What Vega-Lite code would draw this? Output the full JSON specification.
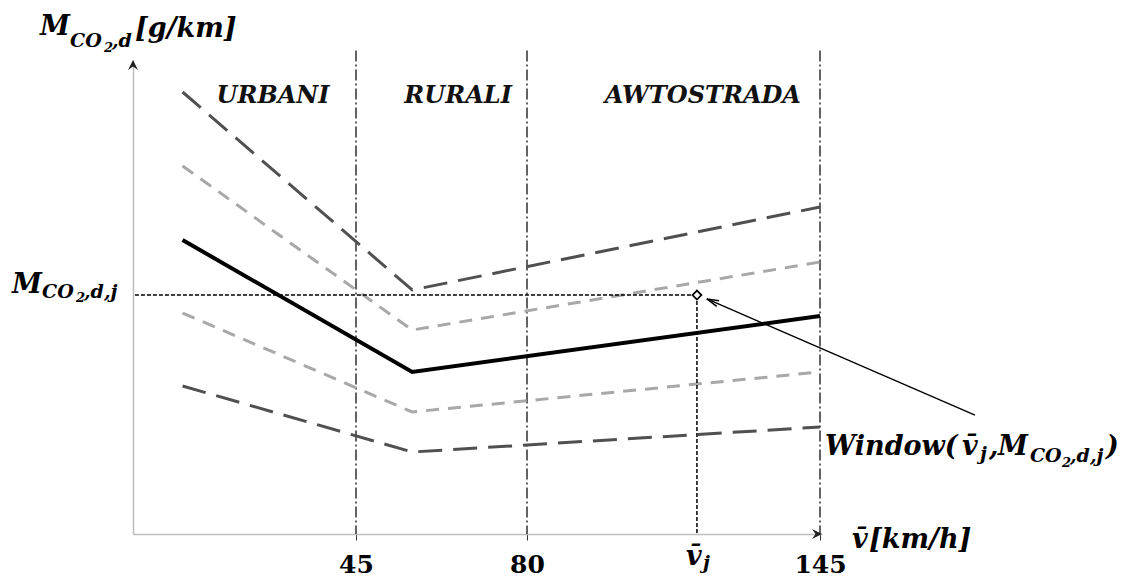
{
  "$schema": "https://vega.github.io/schema/vega-lite/v6.json",
  "autosize": {"type": "none"},
  "width": 689,
  "height": 474,
  "padding": {"left": 133, "top": 60, "right": 307, "bottom": 43},
  "background": "white",
  "config": {"view": {"stroke": null}, "text": {"font": "DejaVu Serif", "fontStyle": "italic", "fontWeight": "bold", "color": "#000000"}},
  "datasets": {
    "curves": [
      {"curve": "upper2", "v": 10, "m": 93.25}, {"curve": "upper2", "v": 56.5, "m": 51.48}, {"curve": "upper2", "v": 145, "m": 68.99},
      {"curve": "upper1", "v": 10, "m": 77.64}, {"curve": "upper1", "v": 56.5, "m": 43.04}, {"curve": "upper1", "v": 145, "m": 57.38},
      {"curve": "mean", "v": 10, "m": 62.03}, {"curve": "mean", "v": 56.5, "m": 34.18}, {"curve": "mean", "v": 145, "m": 45.99},
      {"curve": "lower1", "v": 10, "m": 46.62}, {"curve": "lower1", "v": 56.5, "m": 25.74}, {"curve": "lower1", "v": 145, "m": 34.18},
      {"curve": "lower2", "v": 10, "m": 31.22}, {"curve": "lower2", "v": 56.5, "m": 17.3}, {"curve": "lower2", "v": 145, "m": 22.57}
    ],
    "bounds": [{"v": 45}, {"v": 80}, {"v": 145}],
    "window": [{"v": 117.7, "m": 50.4}],
    "pointer": [{"v": 179.1, "m": 25.1}, {"v": 119.9, "m": 49.6}],
    "pointerTip": [{"v": 119.9, "m": 49.6}],
    "yTip": [{"v": 0, "m": 100}],
    "xTip": [{"v": 145.44, "m": 0}],
    "zones": [{"t": "URBANI", "v": 28.25, "m": 90.9}, {"t": "RURALI", "v": 65.9, "m": 90.9}, {"t": "AWTOSTRADA", "v": 119.0, "m": 90.9}],
    "big": [
      {"t": "M", "v": -18.77, "m": 105.3},
      {"t": "[g/km]", "v": 0.4, "m": 104.9},
      {"t": "M", "v": -24.42, "m": 50.8},
      {"t": "Window(", "v": 146.1, "m": 16.67},
      {"t": "v̄", "v": 176.24, "m": 16.67},
      {"t": ",", "v": 182.18, "m": 16.67},
      {"t": "M", "v": 184.16, "m": 16.67},
      {"t": ")", "v": 207.92, "m": 16.67},
      {"t": "v̄", "v": 152.04, "m": -2.95},
      {"t": "[km/h]", "v": 155.78, "m": -2.95},
      {"t": "v̄", "v": 115.3, "m": -6.54}
    ],
    "sub": [
      {"t": "CO", "v": -12.71, "m": 102.7},
      {"t": ",d", "v": -4.24, "m": 102.7},
      {"t": "CO", "v": -18.36, "m": 49.8},
      {"t": ",d,j", "v": -9.89, "m": 49.8},
      {"t": "j", "v": 180.2, "m": 15.6},
      {"t": "CO", "v": 191.2, "m": 15.19},
      {"t": ",d,j", "v": 200.0, "m": 15.19},
      {"t": "j", "v": 119.04, "m": -7.38}
    ],
    "subsub": [
      {"t": "2", "v": -5.85, "m": 101.7},
      {"t": "2", "v": -11.5, "m": 48.9},
      {"t": "2", "v": 198.24, "m": 14.13}
    ]
  },
  "layer": [
    {
      "data": {"name": "bounds"},
      "mark": {"type": "rule", "color": "#222222", "strokeWidth": 1.4, "strokeDash": [11, 3, 2, 3]},
      "encoding": {
        "x": {"field": "v", "type": "quantitative", "scale": {"domain": [0, 45, 80, 145, 145.44], "range": [0, 223, 394, 687, 689], "nice": false, "zero": false},
          "axis": {"values": [45, 80, 145], "title": null, "grid": false, "domainColor": "#bdbdbd", "domainWidth": 1.5, "tickColor": "#333333", "tickSize": 6, "tickWidth": 1,
            "labelFont": "DejaVu Serif", "labelFontWeight": "bold", "labelFontSize": 25, "labelColor": "#000000", "labelPadding": 12}},
        "y": {"datum": 102, "type": "quantitative", "scale": {"domain": [0, 100], "nice": false},
          "axis": {"title": null, "grid": false, "ticks": false, "labels": false, "domainColor": "#bdbdbd", "domainWidth": 1.5}},
        "y2": {"datum": 0}
      }
    },
    {
      "data": {"name": "curves"},
      "transform": [{"filter": "datum.curve !== 'mean'"}],
      "mark": {"type": "line", "strokeWidth": 3},
      "encoding": {
        "x": {"field": "v", "type": "quantitative"},
        "y": {"field": "m", "type": "quantitative"},
        "detail": {"field": "curve", "type": "nominal"},
        "color": {"field": "curve", "type": "nominal", "legend": null,
          "scale": {"domain": ["upper2", "upper1", "lower1", "lower2"], "range": ["#505050", "#a8a8a8", "#a8a8a8", "#505050"]}},
        "strokeDash": {"field": "curve", "type": "nominal", "legend": null,
          "scale": {"domain": ["upper2", "upper1", "lower1", "lower2"], "range": [[24, 11], [13, 9], [13, 9], [24, 11]]}}
      }
    },
    {
      "data": {"name": "curves"},
      "transform": [{"filter": "datum.curve === 'mean'"}],
      "mark": {"type": "line", "strokeWidth": 4, "color": "#000000"},
      "encoding": {
        "x": {"field": "v", "type": "quantitative"},
        "y": {"field": "m", "type": "quantitative"}
      }
    },
    {
      "data": {"name": "window"},
      "mark": {"type": "rule", "color": "#000000", "strokeWidth": 1.5, "strokeDash": [4, 2]},
      "encoding": {
        "x": {"field": "v", "type": "quantitative"},
        "x2": {"datum": 0},
        "y": {"field": "m", "type": "quantitative"}
      }
    },
    {
      "data": {"name": "window"},
      "mark": {"type": "rule", "color": "#000000", "strokeWidth": 1.5, "strokeDash": [4, 2]},
      "encoding": {
        "x": {"field": "v", "type": "quantitative"},
        "y": {"field": "m", "type": "quantitative"},
        "y2": {"datum": 0}
      }
    },
    {
      "data": {"name": "pointer"},
      "mark": {"type": "line", "color": "#000000", "strokeWidth": 1.4},
      "encoding": {
        "x": {"field": "v", "type": "quantitative"},
        "y": {"field": "m", "type": "quantitative"}
      }
    },
    {
      "data": {"name": "pointerTip"},
      "mark": {"type": "point", "shape": "M-0.5,2L0,0L0.5,2", "size": 144, "angle": 293, "filled": false, "stroke": "#000000", "strokeWidth": 1.5, "opacity": 1},
      "encoding": {
        "x": {"field": "v", "type": "quantitative"},
        "y": {"field": "m", "type": "quantitative"}
      }
    },
    {
      "data": {"name": "window"},
      "mark": {"type": "point", "shape": "diamond", "size": 80, "filled": true, "fill": "#ffffff", "stroke": "#000000", "strokeWidth": 1.8, "opacity": 1},
      "encoding": {
        "x": {"field": "v", "type": "quantitative"},
        "y": {"field": "m", "type": "quantitative"}
      }
    },
    {
      "data": {"name": "yTip"},
      "mark": {"type": "point", "shape": "M0,0L-1,2L0,1.3L1,2Z", "size": 100, "angle": 0, "filled": true, "color": "#222222", "opacity": 1},
      "encoding": {
        "x": {"field": "v", "type": "quantitative"},
        "y": {"field": "m", "type": "quantitative"}
      }
    },
    {
      "data": {"name": "xTip"},
      "mark": {"type": "point", "shape": "M0,0L-1,2L0,1.3L1,2Z", "size": 100, "angle": 90, "filled": true, "color": "#222222", "opacity": 1},
      "encoding": {
        "x": {"field": "v", "type": "quantitative"},
        "y": {"field": "m", "type": "quantitative"}
      }
    },
    {
      "data": {"name": "zones"},
      "mark": {"type": "text", "fontSize": 24, "align": "center", "baseline": "alphabetic", "color": "#111111"},
      "encoding": {
        "x": {"field": "v", "type": "quantitative"},
        "y": {"field": "m", "type": "quantitative"},
        "text": {"field": "t", "type": "nominal"}
      }
    },
    {
      "data": {"name": "big"},
      "mark": {"type": "text", "fontSize": 27, "align": "left", "baseline": "alphabetic"},
      "encoding": {
        "x": {"field": "v", "type": "quantitative"},
        "y": {"field": "m", "type": "quantitative"},
        "text": {"field": "t", "type": "nominal"}
      }
    },
    {
      "data": {"name": "sub"},
      "mark": {"type": "text", "fontSize": 19, "align": "left", "baseline": "alphabetic"},
      "encoding": {
        "x": {"field": "v", "type": "quantitative"},
        "y": {"field": "m", "type": "quantitative"},
        "text": {"field": "t", "type": "nominal"}
      }
    },
    {
      "data": {"name": "subsub"},
      "mark": {"type": "text", "fontSize": 13, "align": "left", "baseline": "alphabetic"},
      "encoding": {
        "x": {"field": "v", "type": "quantitative"},
        "y": {"field": "m", "type": "quantitative"},
        "text": {"field": "t", "type": "nominal"}
      }
    }
  ]
}
